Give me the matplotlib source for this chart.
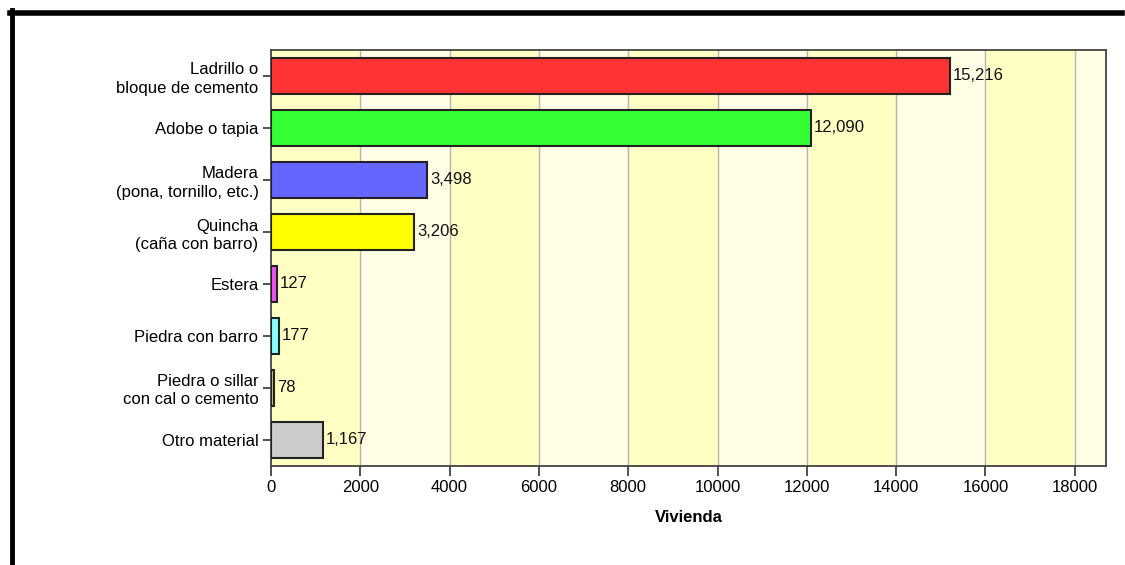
import matplotlib
matplotlib.use("Agg")
import matplotlib.pyplot as plt
from matplotlib.lines import Line2D

categories = ["Ladrillo o\nbloque de cemento", "Adobe o tapia", "Madera\n(pona, tornillo, etc.)",
              "Quincha\n(caña con barro)", "Estera", "Piedra con barro",
              "Piedra o sillar\ncon cal o cemento", "Otro material"]
values = [15216, 12090, 3498, 3206, 127, 177, 78, 1167]
value_labels = ["15,216", "12,090", "3,498", "3,206", "127", "177", "78", "1,167"]
colors = ["#FF3333", "#33FF33", "#6666FF", "#FFFF00", "#EE55EE", "#88FFFF", "#CCCC66", "#CCCCCC"]
xticks = [0, 2000, 4000, 6000, 8000, 10000, 12000, 14000, 16000, 18000]

plt.rcParams['font.family'] = ['Liberation Sans', 'DejaVu Sans']

W, H = 1125, 565
fig = plt.figure(figsize=(W / 100, H / 100), dpi=100)
fig.patch.set_facecolor("white")
ax = fig.add_axes([271 / W, 1 - 466 / H, (1106 - 271) / W, (466 - 50) / H])

xmax = 18700
# alternating bands
for i, x0 in enumerate(range(0, 20000, 2000)):
    col = "#FFFFC4" if i % 2 == 0 else "#FFFDE4"
    ax.axvspan(x0, min(x0 + 2000, xmax), color=col, zorder=0, lw=0)
for x in xticks[1:]:
    ax.axvline(x, color="#B4B4B4", lw=1.0, zorder=1)

ypos = list(range(len(categories)))
ax.barh(ypos, values, height=0.69, color=colors, edgecolor="#222222", linewidth=1.5, zorder=3)
for y, v, lab in zip(ypos, values, value_labels):
    ax.text(v + 60, y, lab, va="center", ha="left", fontsize=12, color="#111111", zorder=4)

ax.set_xlim(0, xmax)
ax.set_ylim(7.5, -0.5)
ax.set_yticks(ypos)
ax.set_yticklabels(categories, fontsize=12, linespacing=1.25)
ax.set_xticks(xticks)
ax.set_xticklabels([str(t) for t in xticks], fontsize=12)
ax.tick_params(axis="y", length=6, width=1.2, color="#333333", pad=3)
ax.tick_params(axis="x", length=7, width=1.2, color="#333333", pad=3)
for s in ax.spines.values():
    s.set_color("#444444")
    s.set_linewidth(1.3)

fig.text((271 + 1106) / 2 / W, 1 - 518 / H, "Vivienda", ha="center", va="center",
         fontsize=12, fontweight="bold")

# outer frame lines
fig.add_artist(Line2D([10 / W, 1122 / W], [1 - 12.5 / H, 1 - 12.5 / H], color="black", lw=4))
fig.add_artist(Line2D([12 / W, 12 / W], [1 - 10 / H, 0], color="black", lw=3.5))

fig.savefig("out.png", dpi=100)
